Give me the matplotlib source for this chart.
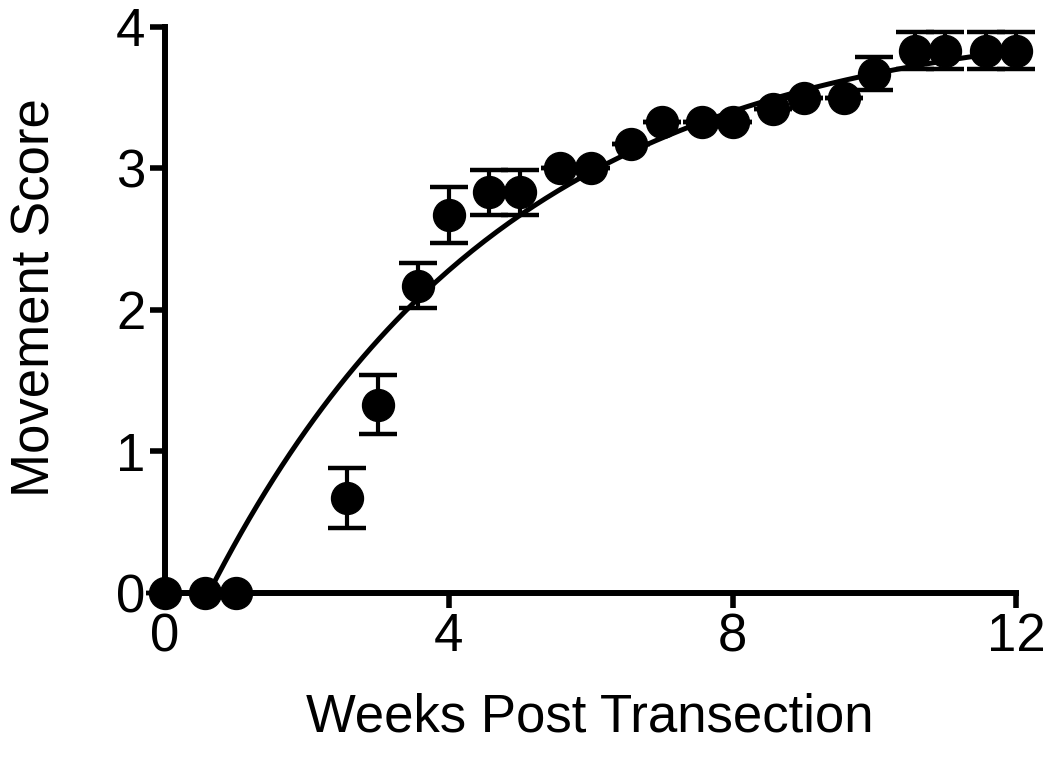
import matplotlib
matplotlib.use("Agg")
import matplotlib.pyplot as plt
import numpy as np

plt.rcParams['font.family'] = ['Liberation Sans', 'DejaVu Sans']

# weeks post transection (scored twice a week)
weeks = [0, 0.57, 1, 2.57, 3, 3.57, 4, 4.57, 5, 5.57, 6, 6.57,
         7, 7.57, 8, 8.57, 9, 9.57, 10, 10.57, 11, 11.57, 12]
score = [0, 0, 0, 0.67, 1.33, 2.17, 2.67, 2.83, 2.83, 3.0, 3.0, 3.17,
         3.33, 3.33, 3.33, 3.42, 3.5, 3.5, 3.67, 3.83, 3.83, 3.83, 3.83]
sem = [0, 0, 0, 0.21, 0.21, 0.16, 0.2, 0.16, 0.16, 0, 0, 0,
       0, 0, 0, 0, 0, 0, 0.12, 0.13, 0.13, 0.13, 0.13]

# one-phase association fit
fit_top = 4.1
fit_k = 0.24
fit_x0 = 0.62

fig = plt.figure(figsize=(10.5, 7.62), dpi=100)
ax = fig.add_axes([0.157, 0.222, 0.811, 0.7428])

xf = np.linspace(fit_x0, 12, 200)
yf = fit_top * (1 - np.exp(-fit_k * (xf - fit_x0)))
ax.plot(xf, yf, color='black', linewidth=3.6, zorder=2)

ax.errorbar(weeks, score, yerr=sem, fmt='o', color='black', markersize=23,
            elinewidth=3, capsize=14, capthick=3.2, clip_on=False, zorder=3)

ax.set_xlim(0, 12)
ax.set_ylim(0, 4)
ax.set_xticks([0, 4, 8, 12])
ax.set_yticks([0, 1, 2, 3, 4])

for s in ['top', 'right']:
    ax.spines[s].set_visible(False)
for s in ['left', 'bottom']:
    ax.spines[s].set_linewidth(4.3)

ax.tick_params(axis='both', direction='out', length=11, width=4,
               labelsize=38, pad=3)

fig.text(0.562, 0.058, "Weeks Post Transection", fontsize=38,
         ha='center', va='center')
fig.text(0.034, 0.61, "Movement Score", fontsize=38, rotation=90,
         ha='center', va='center')

fig.savefig("out.png", dpi=100)
